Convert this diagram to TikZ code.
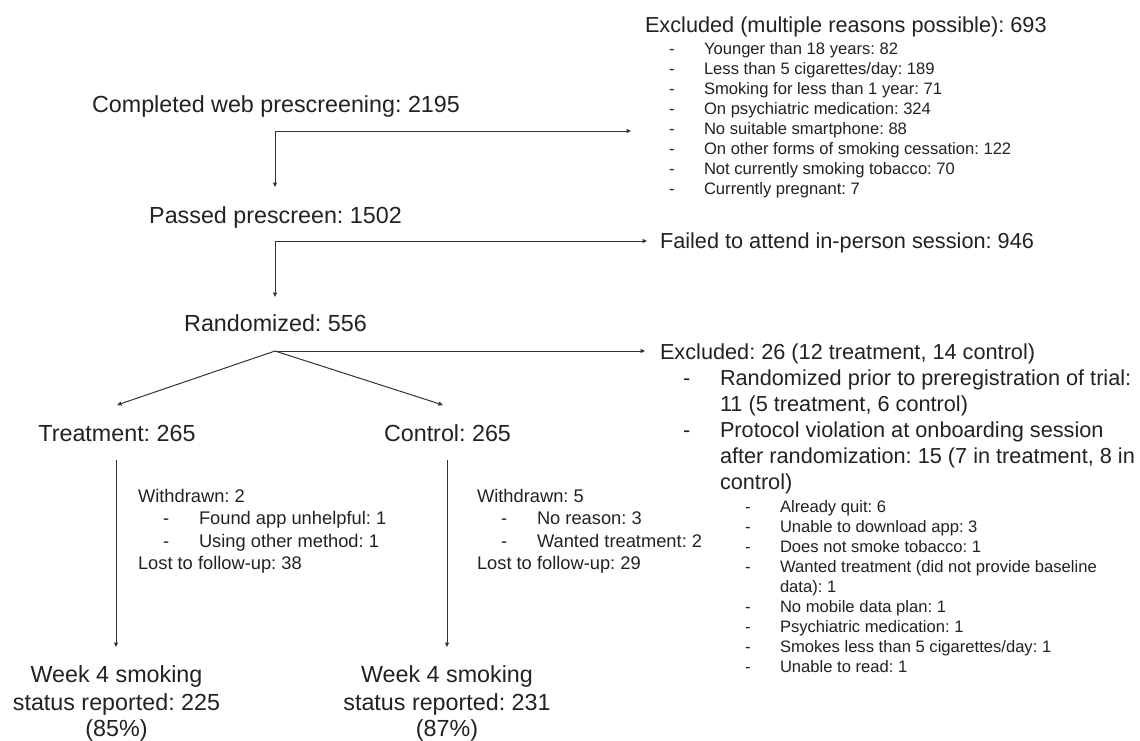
\documentclass[tikz,border=0pt]{standalone}
\usepackage{fontspec}
\setmainfont{Liberation Sans}
\usetikzlibrary{arrows.meta}
\definecolor{txt}{HTML}{222222}
\definecolor{ln}{HTML}{333333}
\frenchspacing
\begin{document}
\begin{tikzpicture}[x=1pt,y=-1pt,
  every node/.style={inner sep=0pt, outer sep=0pt, text=txt},
  big/.style={font=\fontsize{23.3}{27}\selectfont},
  mid/.style={font=\fontsize{21.7}{26}\selectfont},
  sml/.style={font=\fontsize{18.3}{22}\selectfont},
  tny/.style={font=\fontsize{16.6}{20}\selectfont},
  conn/.style={draw=ln, line width=1pt, -{Triangle[length=4.5pt,width=4pt]}}]
\useasboundingbox[fill=white] (0,0) rectangle (1140,740);

% left column
\node[big,anchor=base] (comp) at (276,112) {Completed web prescreening: 2195};
\node[big,anchor=base] (pass) at (275.5,223) {Passed prescreen: 1502};
\node[big,anchor=base] (rand) at (275.5,331) {Randomized: 556};
\node[big,anchor=base] (treat) at (117,441) {Treatment: 265};
\node[big,anchor=base] (ctrl) at (447.5,441) {Control: 265};
\node[big,anchor=base] (wT1) at (116.5,682) {Week 4 smoking};
\node[big,anchor=base] (wT2) at (116.5,710) {status reported: 225};
\node[big,anchor=base] (wT3) at (116.5,736) {(85\%)};
\node[big,anchor=base] (wC1) at (447,682) {Week 4 smoking};
\node[big,anchor=base] (wC2) at (447,710) {status reported: 231};
\node[big,anchor=base] (wC3) at (447,736) {(87\%)};

% treatment losses
\node[sml,anchor=base west] (tw) at (138,502.5) {Withdrawn: 2};
\node[sml,anchor=base west] (td1) at (163,524.5) {-};
\node[sml,anchor=base west] (tr1) at (199,524.5) {Found app unhelpful: 1};
\node[sml,anchor=base west] (td2) at (163,547.5) {-};
\node[sml,anchor=base west] (tr2) at (199,547.5) {Using other method: 1};
\node[sml,anchor=base west] (tl) at (138,569.5) {Lost to follow-up: 38};

% control losses
\node[sml,anchor=base west] (cw) at (477,502.5) {Withdrawn: 5};
\node[sml,anchor=base west] (cd1) at (501,524.5) {-};
\node[sml,anchor=base west] (cr1) at (537,524.5) {No reason: 3};
\node[sml,anchor=base west] (cd2) at (501,547.5) {-};
\node[sml,anchor=base west] (cr2) at (537,547.5) {Wanted treatment: 2};
\node[sml,anchor=base west] (cl) at (477,569.5) {Lost to follow-up: 29};

% first exclusion
\node[mid,anchor=base west] (exA) at (645,32) {Excluded (multiple reasons possible): 693};
\foreach \t [count=\i] in {Younger than 18 years: 82,
  Less than 5 cigarettes/day: 189,
  Smoking for less than 1 year: 71,
  On psychiatric medication: 324,
  No suitable smartphone: 88,
  On other forms of smoking cessation: 122,
  Not currently smoking tobacco: 70,
  Currently pregnant: 7}{
  \node[tny,anchor=base west] (exAd\i) at (669,{34+20*\i}) {-};
  \node[tny,anchor=base west] (exA\i) at (704,{34+20*\i}) {\t};
}

% second exclusion
\node[mid,anchor=base west] (fail) at (660,248) {Failed to attend in-person session: 946};

% third exclusion
\node[mid,anchor=base west] (exB) at (660,359) {Excluded: 26 (12 treatment, 14 control)};
\node[mid,anchor=base west] (exBd1) at (683,385) {-};
\node[mid,anchor=base west] (exB1a) at (720,385) {Randomized prior to preregistration of trial:};
\node[mid,anchor=base west] (exB1b) at (720,411) {11 (5 treatment, 6 control)};
\node[mid,anchor=base west] (exBd2) at (683,437) {-};
\node[mid,anchor=base west] (exB2a) at (720,437) {Protocol violation at onboarding session};
\node[mid,anchor=base west] (exB2b) at (720,463) {after randomization: 15 (7 in treatment, 8 in};
\node[mid,anchor=base west] (exB2c) at (720,489) {control)};
\foreach \t [count=\i] in {Already quit: 6,
  Unable to download app: 3,
  Does not smoke tobacco: 1,
  Wanted treatment (did not provide baseline,
  data): 1,
  No mobile data plan: 1,
  Psychiatric medication: 1,
  Smokes less than 5 cigarettes/day: 1,
  Unable to read: 1}{
  \node[tny,anchor=base west] (exC\i) at (780,{492+20*\i}) {\t};
}
\foreach \i in {1,2,3,4,6,7,8,9}{
  \node[tny,anchor=base west] (exCd\i) at (745,{492+20*\i}) {-};
}

% connectors
\coordinate (j1) at (275,131);
\coordinate (e1) at (275,187);
\coordinate (h1) at (631,131);
\coordinate (j2) at (275,241);
\coordinate (e2) at (275,297);
\coordinate (h2) at (647,241);
\coordinate (j3) at (275,351);
\coordinate (tA) at (117,405);
\coordinate (tB) at (443,405);
\coordinate (h3) at (645,351);
\coordinate (sT) at (116,460);
\coordinate (eT) at (116,647);
\coordinate (sC) at (447,460);
\coordinate (eC) at (447,647);

\draw[conn] (j1) -- (e1);
\draw[conn] (j1) -- (h1);
\draw[conn] (j2) -- (e2);
\draw[conn] (j2) -- (h2);
\draw[conn] (j3) -- (tA);
\draw[conn] (j3) -- (tB);
\draw[conn] (j3) -- (h3);
\draw[conn] (sT) -- (eT);
\draw[conn] (sC) -- (eC);
\end{tikzpicture}
\end{document}
